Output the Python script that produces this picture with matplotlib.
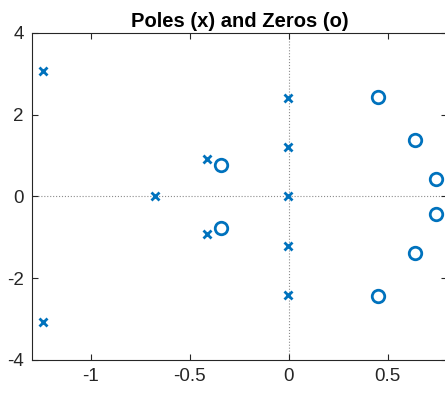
import matplotlib
matplotlib.use("Agg")
import matplotlib.pyplot as plt

plt.rcParams['font.family'] = ['Liberation Sans', 'DejaVu Sans']

pole_re = [-1.242, -1.242, -0.674, -0.413, -0.413, -0.006, -0.006, -0.006, -0.006, -0.006]
pole_im = [3.06, -3.06, 0.0, 0.925, -0.925, 2.415, 1.20, 0.0, -1.20, -2.415]
zero_re = [-0.343, -0.343, 0.449, 0.449, 0.638, 0.638, 0.745, 0.745]
zero_im = [0.76, -0.76, 2.43, -2.43, 1.39, -1.39, 0.43, -0.43]

xticks = [-1, -0.5, 0, 0.5]
yticks = [-4, -2, 0, 2, 4]

W, H = 445, 396
fig = plt.figure(figsize=(W / 100, H / 100), dpi=100)
l, r, t, b = 32, 447, 33, 360
ax = fig.add_axes([l / W, (H - b) / H, (r - l) / W, (b - t) / H])

col = '#0072BD'
ax.axhline(0, color='#8c8c8c', lw=0.8, ls=':', zorder=1)
ax.axvline(0, color='#8c8c8c', lw=0.8, ls=':', zorder=1)
ax.plot(pole_re, pole_im, 'x', color=col, ms=6, mew=2, ls='none', zorder=3)
ax.plot(zero_re, zero_im, 'o', color=col, ms=9, mew=2, mfc='none', ls='none', zorder=3)

x0 = -1 - (90.7 - l) / 198
x1 = (r - 288.7) / 198
ax.set_xlim(x0, x1)
ax.set_ylim(-4, 4)
ax.set_xticks(xticks)
ax.set_xticklabels(['-1', '-0.5', '0', '0.5'])
ax.set_yticks(yticks)
ax.set_yticklabels([str(v) for v in yticks])
ax.tick_params(direction='in', length=4, width=0.8, colors='#262626',
               labelsize=13.5, top=True, right=True, pad=6)
for s in ax.spines.values():
    s.set_color('#262626')
    s.set_linewidth(0.8)
ax.set_title('Poles (x) and Zeros (o)', fontsize=14.5, fontweight='bold', pad=4)

fig.savefig('out.png', dpi=100)
